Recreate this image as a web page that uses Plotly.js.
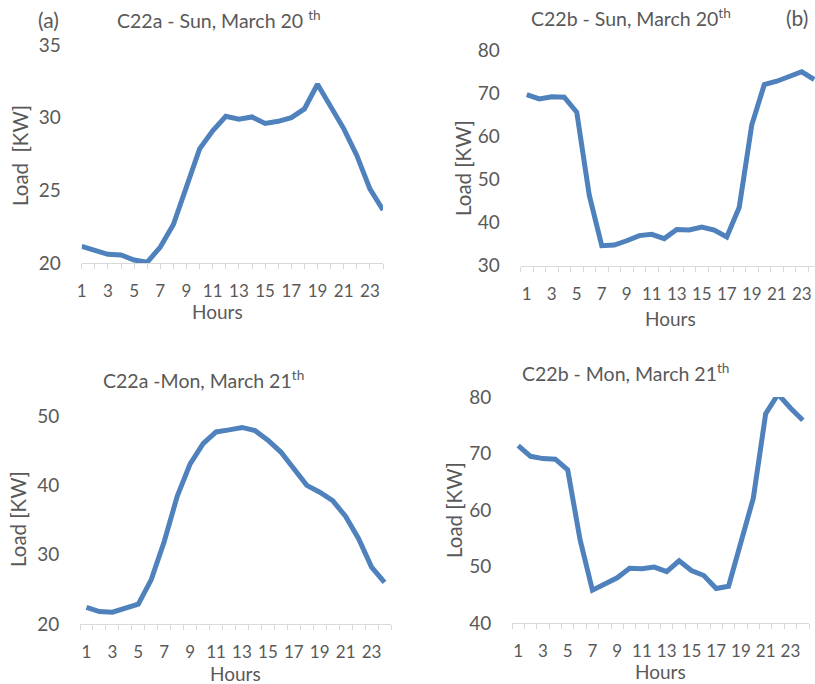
<!DOCTYPE html>
<html>
<head>
<meta charset="utf-8">
<script src="https://cdn.plot.ly/plotly-3.0.1.min.js"></script>
<style>html,body{margin:0;padding:0;background:#fff;}#chart{width:815px;height:684px;}</style>
</head>
<body>
<div id="chart"></div>
<script>
// ---- data ----
const hours = [1,2,3,4,5,6,7,8,9,10,11,12,13,14,15,16,17,18,19,20,21,22,23,24];
const oddHours = [1,3,5,7,9,11,13,15,17,19,21,23];
const oddHourLabels = ["1","3","5","7","9","11","13","15","17","19","21","23"];
const c22aSun = [21.15,20.9,20.6,20.55,20.2,20.05,21.1,22.65,25.15,27.85,29.1,30.1,29.9,30.05,29.6,29.75,30.0,30.6,32.3,30.7,29.25,27.4,25.1,23.65];
const c22bSun = [69.8,68.8,69.3,69.2,65.7,46.4,34.65,34.8,35.8,37.0,37.3,36.3,38.4,38.3,39.0,38.3,36.7,43.6,62.7,72.1,72.9,74.0,75.1,73.3];
const c22aMon = [22.4,21.8,21.7,22.35,22.85,26.4,31.9,38.4,43.1,46.0,47.7,48.0,48.35,47.9,46.5,44.8,42.5,40.0,39.0,37.8,35.5,32.3,28.2,26.0];
const c22bMon = [71.4,69.5,69.1,69.0,67.1,54.75,45.8,46.8,48.0,49.7,49.6,49.9,49.1,51.0,49.3,48.4,46.1,46.5,54.6,62.1,77.05,80.5,78.05,75.9];

const W = 815, H = 684;
const px = x => x / W;
const py = y => 1 - y / H;

const LINE = '#4F81BD';
const TXT = '#595959';
const FONT = 'Lato, "Open Sans", sans-serif';

function trace(y, xa, ya) {
  return {x: hours, y: y, xaxis: xa, yaxis: ya, type: 'scatter', mode: 'lines',
          line: {color: LINE, width: 5, shape: 'linear'}, hoverinfo: 'skip'};
}

function xAxis(domain, range, onTicks) {
  return {
    domain: domain, range: range, showgrid: false, zeroline: false,
    showline: true, linecolor: '#D9D9D9', linewidth: 1,
    tickmode: 'array', tickvals: oddHours, ticktext: oddHourLabels,
    ticks: 'outside', ticklen: 5, tickwidth: 1,
    tickcolor: onTicks ? '#D9D9D9' : 'rgba(0,0,0,0)',
    ticklabelstandoff: 8,
    tickfont: {family: FONT, size: 17, color: TXT},
    minor: {ticks: 'outside', ticklen: 5, tickwidth: 1, tickcolor: '#D9D9D9',
            tick0: onTicks ? 0 : 0.5, dtick: 1, showgrid: false},
    fixedrange: true
  };
}
function yAxis(domain, range, dtick, anchor) {
  return {
    domain: domain, range: range, dtick: dtick, tick0: 0, anchor: anchor,
    showgrid: false, zeroline: false, showline: false,
    ticks: 'outside', ticklen: 16, tickcolor: 'rgba(0,0,0,0)',
    tickfont: {family: FONT, size: 19, color: TXT},
    fixedrange: true
  };
}

const data = [
  trace(c22aSun, 'x', 'y'),
  trace(c22bSun, 'x2', 'y2'),
  trace(c22aMon, 'x3', 'y3'),
  trace(c22bMon, 'x4', 'y4')
];

function ann(text, x, y, size, angle) {
  return {text: text, xref: 'paper', yref: 'paper', x: px(x), y: py(y),
          xanchor: 'center', yanchor: 'middle', showarrow: false,
          textangle: angle || 0, font: {family: FONT, size: size, color: TXT}};
}

const layout = {
  width: W, height: H, showlegend: false,
  paper_bgcolor: '#fff', plot_bgcolor: 'rgba(0,0,0,0)',
  margin: {l: 0, r: 0, t: 0, b: 0, pad: 0},
  xaxis:  Object.assign(xAxis([px(81.7), px(383)], [1, 24], true), {anchor: 'y'}),
  yaxis:  yAxis([py(263), py(45)], [20, 35], 5, 'x'),
  xaxis2: Object.assign(xAxis([px(520.5), 1], [0.5, 24.06], false), {anchor: 'y2'}),
  yaxis2: yAxis([py(265.7), py(50.7)], [30, 80], 10, 'x2'),
  xaxis3: Object.assign(xAxis([px(80), px(391)], [0.5, 24.5], false), {anchor: 'y3'}),
  yaxis3: yAxis([py(624), py(416)], [20, 50], 10, 'x3'),
  xaxis4: Object.assign(xAxis([px(512), px(809)], [0.5, 24.5], false), {anchor: 'y4'}),
  yaxis4: yAxis([py(623), py(397)], [40, 80], 10, 'x4'),
  annotations: [
    ann('(a)', 48, 20, 21),
    ann('C22a - Sun, March 20 <sup>th</sup>', 219, 20, 19.5),
    ann('C22b - Sun, March 20<sup>th</sup>', 631, 18, 19.5),
    ann('(b)', 797, 18, 21),
    ann('C22a -Mon, March 21<sup>th</sup>', 203, 379, 19.5),
    ann('C22b - Mon, March 21<sup>th</sup>', 625, 373, 19.5),
    ann('Load  [KW]', 20, 156, 20.5, -90),
    ann('Load [KW]', 463, 168, 20.5, -90),
    ann('Load [KW]', 18, 519, 20.5, -90),
    ann('Load [KW]', 454, 510, 20.5, -90),
    ann('Hours', 217, 311, 19),
    ann('Hours', 670, 318, 19),
    ann('Hours', 235, 673, 19),
    ann('Hours', 660, 671, 19)
  ]
};

Plotly.newPlot('chart', data, layout, {displayModeBar: false, staticPlot: true});
</script>
</body>
</html>
